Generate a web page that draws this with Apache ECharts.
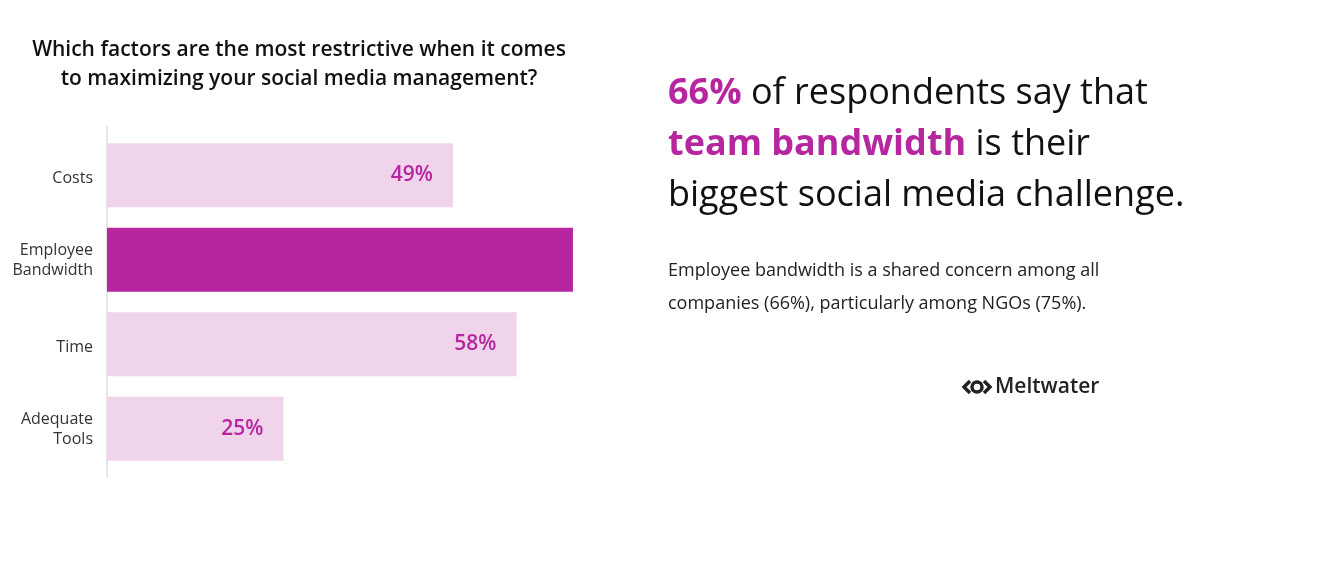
<!DOCTYPE html>
<html><head><meta charset="utf-8">
<script src="https://cdn.jsdelivr.net/npm/echarts@6/dist/echarts.min.js"></script>
<style>html,body{margin:0;padding:0;background:#fff}#c{width:1332px;height:584px}</style>
</head><body><div id="c"></div>
<script>
var categories = ['Costs', 'Employee\nBandwidth', 'Time', 'Adequate\nTools'];
var values = [49, 66, 58, 25];
var highlight = [false, true, false, false];
var labelShown = [true, false, true, true];

var chart = echarts.init(document.getElementById('c'));
var F = '"Open Sans", Lato, sans-serif';
var P = '#b5269f';
chart.setOption({
  animation: false,
  title: {
    text: 'Which factors are the most restrictive when it comes\nto maximizing your social media management?',
    left: 294, top: 31, textAlign: 'center',
    textStyle: {fontFamily: F, fontSize: 21, fontWeight: 600, color: '#111', lineHeight: 29}
  },
  grid: {left: 107, top: 133, width: 706, height: 338},
  xAxis: {type: 'value', min: 0, max: 100, show: false},
  yAxis: {
    type: 'category', data: categories, inverse: true,
    axisLine: {show: false}, axisTick: {show: false},
    axisLabel: {
      fontFamily: F, fontSize: 16, color: '#333', margin: 14, lineHeight: 20, align: 'right',
      formatter: function (v) {
        return v.indexOf('\n') < 0 ? '{s|' + v + '}' : v.split('\n').map(function (t) { return '{m|' + t + '}'; }).join('\n');
      },
      rich: {
        s: {fontFamily: F, fontSize: 16, color: '#333', padding: [6, 0, 0, 0]},
        m: {fontFamily: F, fontSize: 16, color: '#333', lineHeight: 20, padding: [2, 0, 0, 0]}
      }
    }
  },
  series: [{
    type: 'bar', barWidth: 64,
    data: values.map(function (v, i) {
      return {
        value: v,
        itemStyle: {color: highlight[i] ? '#b5269f' : '#f0d4eb'},
        label: {show: labelShown[i]}
      };
    }),
    label: {
      position: 'insideRight', distance: 20, formatter: '{c}%',
      fontFamily: F, fontSize: 21, fontWeight: 600, color: P
    }
  }],
  graphic: [
    {type: 'rect', shape: {x: 106, y: 126, width: 2, height: 351}, style: {fill: '#e6e6e6'}, z: 0},
    {type: 'text', left: 668, top: 68, style: {
      text: '{b|66%} of respondents say that\n{b|team bandwidth} is their\nbiggest social media challenge.',
      fontFamily: F, fontSize: 36, lineHeight: 51, fill: '#111',
      rich: {b: {fontFamily: F, fontSize: 36, fontWeight: 'bold', fill: P, lineHeight: 51}}
    }},
    {type: 'text', left: 668, top: 254, style: {
      text: 'Employee bandwidth is a shared concern among all\ncompanies (66%), particularly among NGOs (75%).',
      fontFamily: F, fontSize: 18, lineHeight: 33, fill: '#222'
    }},
    {type: 'polyline', shape: {points: [[970, 381], [964, 387], [970, 393]]}, style: {stroke: '#222', lineWidth: 3.5, fill: null}},
    {type: 'polyline', shape: {points: [[984, 381], [990, 387], [984, 393]]}, style: {stroke: '#222', lineWidth: 3.5, fill: null}},
    {type: 'circle', shape: {cx: 977, cy: 387, r: 5}, style: {stroke: '#222', lineWidth: 3.5, fill: null}},
    {type: 'text', left: 995, top: 377, style: {text: 'Meltwater', fontFamily: F, fontSize: 21, fontWeight: 600, fill: '#222'}}
  ]
});
</script></body></html>
